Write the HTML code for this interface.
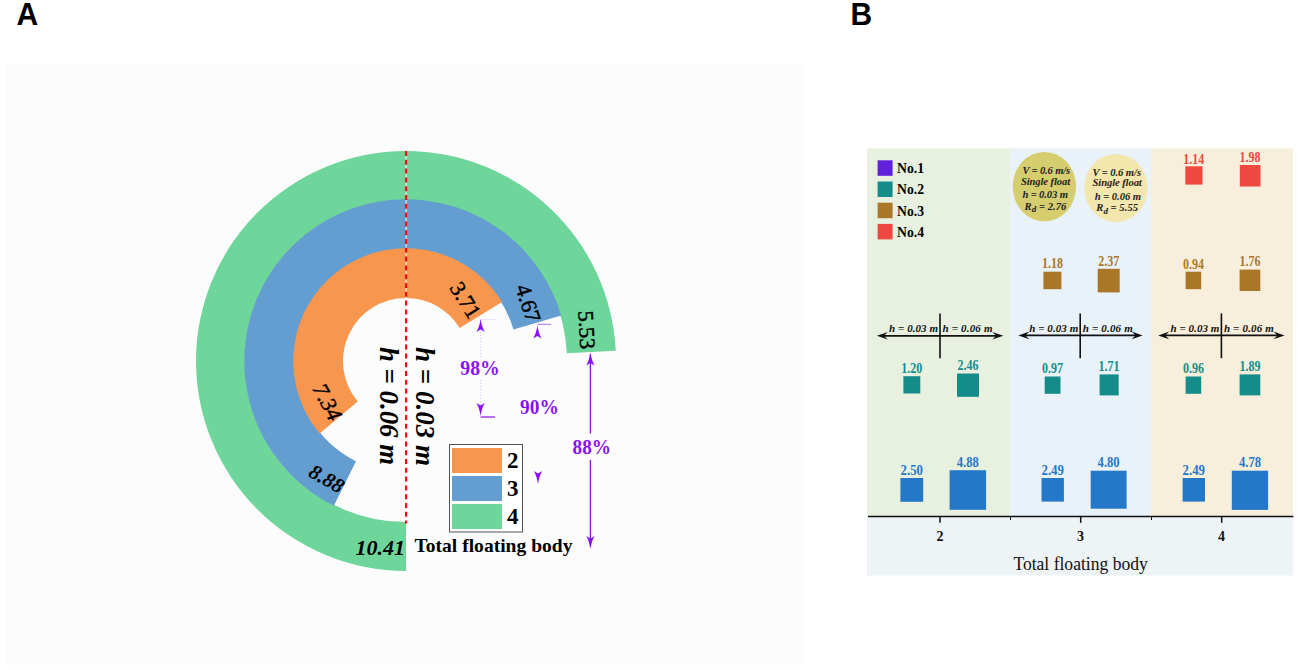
<!DOCTYPE html>
<html><head><meta charset="utf-8"><style>
html,body{margin:0;padding:0;background:#fff;width:1299px;height:670px;overflow:hidden}
svg{display:block}
</style></head><body>
<svg width="1299" height="670" viewBox="0 0 1299 670">
<text transform="translate(16.5,24.8) scale(1,1.02)" font-family='"Liberation Sans", sans-serif' font-weight="bold" font-size="30">A</text>
<text transform="translate(850.5,24.8) scale(1,1.02)" font-family='"Liberation Sans", sans-serif' font-weight="bold" font-size="30">B</text>
<rect x="6" y="65" width="799" height="600" fill="#fcfcfd"/>
<path d="M406.00,571.00 A210,210 0 0 1 406.00,151.00 L406.00,200.00 A161,161 0 0 0 406.00,522.00 Z" fill="#6ed69b"/>
<path d="M406.00,151.00 A210,210 0 0 1 615.75,350.74 L566.81,353.14 A161,161 0 0 0 406.00,200.00 Z" fill="#6ed69b"/>
<path d="M333.85,505.71 A161.7,161.7 0 0 1 406.00,199.30 L406.00,249.00 A112,112 0 0 0 356.03,461.23 Z" fill="#649dd0"/>
<path d="M406.00,199.30 A161.7,161.7 0 0 1 561.20,315.62 L513.50,329.57 A112,112 0 0 0 406.00,249.00 Z" fill="#649dd0"/>
<path d="M319.67,433.44 A112.7,112.7 0 0 1 406.00,248.30 L406.00,298.00 A63,63 0 0 0 357.74,401.50 Z" fill="#f8964e"/>
<path d="M406.00,248.30 A112.7,112.7 0 0 1 502.09,302.11 L459.72,328.08 A63,63 0 0 0 406.00,298.00 Z" fill="#f8964e"/>
<line x1="406.1" y1="151" x2="406.1" y2="523.5" stroke="#ffffff" stroke-width="1"/>
<line x1="406.1" y1="151" x2="406.1" y2="523.5" stroke="#ee1111" stroke-width="2.2" stroke-dasharray="5 3.8"/>
<text transform="translate(380,347) rotate(90)" font-family='"Liberation Serif", serif' font-weight="bold" font-style="italic" font-size="27" textLength="118" lengthAdjust="spacingAndGlyphs">h = 0.06 m</text>
<text transform="translate(416,347) rotate(90)" font-family='"Liberation Serif", serif' font-weight="bold" font-style="italic" font-size="27" textLength="119" lengthAdjust="spacingAndGlyphs">h = 0.03 m</text>
<text transform="translate(465.6,300) rotate(58)" text-anchor="middle" dominant-baseline="central" font-family='"Liberation Serif", serif' font-weight="normal" font-style="normal" font-size="22" stroke="#000" stroke-width="0.45">3.71</text>
<text transform="translate(528.3,303.2) rotate(72)" text-anchor="middle" dominant-baseline="central" font-family='"Liberation Serif", serif' font-weight="normal" font-style="normal" font-size="22" stroke="#000" stroke-width="0.45">4.67</text>
<text transform="translate(586.8,329.8) rotate(87)" text-anchor="middle" dominant-baseline="central" font-family='"Liberation Serif", serif' font-weight="normal" font-style="normal" font-size="22" stroke="#000" stroke-width="0.45">5.53</text>
<text transform="translate(327.6,402) rotate(62)" text-anchor="middle" dominant-baseline="central" font-family='"Liberation Serif", serif' font-weight="normal" font-style="italic" font-size="22" stroke="#000" stroke-width="0.45">7.34</text>
<text transform="translate(326.7,478.8) rotate(30)" text-anchor="middle" dominant-baseline="central" font-family='"Liberation Serif", serif' font-weight="bold" font-style="italic" font-size="21" stroke="#000" stroke-width="0">8.88</text>
<text x="405" y="554.8" text-anchor="end" font-family='"Liberation Serif", serif' font-weight="bold" font-style="italic" font-size="22">10.41</text>
<rect x="449.5" y="444.5" width="73" height="87.5" fill="#ffffff" stroke="#555" stroke-width="1"/>
<rect x="452" y="448" width="50" height="25" fill="#f8964e"/>
<rect x="452" y="476" width="50" height="25" fill="#649dd0"/>
<rect x="452" y="504" width="50" height="25" fill="#6ed69b"/>
<text x="507" y="467.5" font-family='"Liberation Serif", serif' font-weight="bold" font-size="23">2</text>
<text x="507" y="495.5" font-family='"Liberation Serif", serif' font-weight="bold" font-size="23">3</text>
<text x="507" y="523.5" font-family='"Liberation Serif", serif' font-weight="bold" font-size="23">4</text>
<text x="414.5" y="552" font-family='"Liberation Serif", serif' font-weight="bold" font-size="19" textLength="158" lengthAdjust="spacingAndGlyphs">Total floating body</text>
<text x="460.3" y="375.2" font-family='"Liberation Serif", serif' font-weight="bold" font-size="20" fill="#8a12f2" textLength="39.5" lengthAdjust="spacingAndGlyphs">98%</text>
<text x="520" y="414" font-family='"Liberation Serif", serif' font-weight="bold" font-size="20" fill="#8a12f2" textLength="38.8" lengthAdjust="spacingAndGlyphs">90%</text>
<text x="572.5" y="454" font-family='"Liberation Serif", serif' font-weight="bold" font-size="20" fill="#8a12f2" textLength="38.5" lengthAdjust="spacingAndGlyphs">88%</text>
<line x1="480.6" y1="320" x2="480.6" y2="358" stroke="#dcbdf8" stroke-width="1" stroke-dasharray="1 2"/>
<line x1="480.6" y1="380" x2="480.6" y2="414" stroke="#dcbdf8" stroke-width="1" stroke-dasharray="1 2"/>
<line x1="481" y1="319.5" x2="495" y2="319.5" stroke="#d8b8f8" stroke-width="1" stroke-dasharray="1 1.5"/>
<path d="M480.6,319 Q481.8,327 484.8,332 L480.6,329.5 L476.40000000000003,332 Q479.40000000000003,327 480.6,319 Z" fill="#8a12f2"/>
<path d="M480.6,416 Q481.8,408 484.8,403 L480.6,405.5 L476.40000000000003,403 Q479.40000000000003,408 480.6,416 Z" fill="#8a12f2"/>
<line x1="480.6" y1="417" x2="495" y2="417" stroke="#8a12f2" stroke-width="1.2"/>
<path d="M537.4,325.5 Q538.6,333.5 541.6,338.5 L537.4,336.0 L533.1999999999999,338.5 Q536.1999999999999,333.5 537.4,325.5 Z" fill="#8a12f2"/>
<line x1="537.4" y1="324.3" x2="551" y2="324.3" stroke="#b070f0" stroke-width="1"/>
<path d="M538,484 Q539.2,476 542.2,471 L538,473.5 L533.8,471 Q536.8,476 538,484 Z" fill="#8a12f2"/>
<line x1="590.4" y1="354" x2="590.4" y2="433.6" stroke="#8a12f2" stroke-width="1.3"/>
<line x1="590.4" y1="460" x2="590.4" y2="546" stroke="#8a12f2" stroke-width="1.3"/>
<path d="M590.4,352.5 Q591.6,360.5 594.6,365.5 L590.4,363.0 L586.1999999999999,365.5 Q589.1999999999999,360.5 590.4,352.5 Z" fill="#8a12f2"/>
<path d="M590.4,549 Q591.6,541 594.6,536 L590.4,538.5 L586.1999999999999,536 Q589.1999999999999,541 590.4,549 Z" fill="#8a12f2"/>
<rect x="867" y="148.3" width="143.5" height="368.2" fill="#e8f1e0"/>
<rect x="1010.5" y="148.3" width="140.5" height="368.2" fill="#e8f2f8"/>
<rect x="1151" y="148.3" width="142" height="368.2" fill="#f7efdc"/>
<rect x="867" y="516.5" width="426.5" height="59" fill="#eef3f6"/>
<rect x="877.6" y="160.3" width="15" height="15.5" fill="#6020dc"/>
<text x="897" y="173.2" font-family='"Liberation Serif", serif' font-weight="bold" font-size="15" textLength="27" lengthAdjust="spacingAndGlyphs">No.1</text>
<rect x="877.6" y="181.5" width="15" height="15.5" fill="#148c8a"/>
<text x="897" y="194.39999999999998" font-family='"Liberation Serif", serif' font-weight="bold" font-size="15" textLength="27" lengthAdjust="spacingAndGlyphs">No.2</text>
<rect x="877.6" y="202.70000000000002" width="15" height="15.5" fill="#aa7628"/>
<text x="897" y="215.6" font-family='"Liberation Serif", serif' font-weight="bold" font-size="15" textLength="27" lengthAdjust="spacingAndGlyphs">No.3</text>
<rect x="877.6" y="223.9" width="15" height="15.5" fill="#ee4840"/>
<text x="897" y="236.79999999999998" font-family='"Liberation Serif", serif' font-weight="bold" font-size="15" textLength="27" lengthAdjust="spacingAndGlyphs">No.4</text>
<ellipse cx="1044.4" cy="186.6" rx="31.7" ry="34.7" fill="#d6ce6e"/>
<ellipse cx="1116" cy="188" rx="31.7" ry="34" fill="#f4e7ae"/>
<text x="1022.4" y="173.6" font-family='"Liberation Serif", serif' font-weight="bold" font-style="italic" font-size="10.6" fill="#222" textLength="47.7" lengthAdjust="spacing">V = 0.6 m/s</text>
<text x="1020.9" y="184.8" font-family='"Liberation Serif", serif' font-weight="bold" font-style="italic" font-size="10.6" fill="#222" textLength="49.2" lengthAdjust="spacing">Single float</text>
<text x="1022.4" y="197.9" font-family='"Liberation Serif", serif' font-weight="bold" font-style="italic" font-size="10.6" fill="#222" textLength="45.5" lengthAdjust="spacing">h = 0.03 m</text>
<text x="1024.6" y="209.9" font-family='"Liberation Serif", serif' font-weight="bold" font-style="italic" font-size="10.6" fill="#222" textLength="41.8" lengthAdjust="spacing">R<tspan font-size="9" dy="2.5">d</tspan><tspan dy="-2.5"> = 2.76</tspan></text>
<text x="1092.5" y="175.8" font-family='"Liberation Serif", serif' font-weight="bold" font-style="italic" font-size="10.6" fill="#222" textLength="48.5" lengthAdjust="spacing">V = 0.6 m/s</text>
<text x="1092.5" y="186.3" font-family='"Liberation Serif", serif' font-weight="bold" font-style="italic" font-size="10.6" fill="#222" textLength="49.3" lengthAdjust="spacing">Single float</text>
<text x="1094.8" y="199.7" font-family='"Liberation Serif", serif' font-weight="bold" font-style="italic" font-size="10.6" fill="#222" textLength="46.2" lengthAdjust="spacing">h = 0.06 m</text>
<text x="1096.3" y="211.3" font-family='"Liberation Serif", serif' font-weight="bold" font-style="italic" font-size="10.6" fill="#222" textLength="41.7" lengthAdjust="spacing">R<tspan font-size="9" dy="2.5">d</tspan><tspan dy="-2.5"> = 5.55</tspan></text>
<rect x="1185.3" y="166.3" width="17.20" height="18.30" fill="#ee4840"/>
<text x="1193.8" y="163.5" text-anchor="middle" font-family='"Liberation Serif", serif' font-weight="bold" font-size="13.6" fill="#ee4840" textLength="21" lengthAdjust="spacingAndGlyphs">1.14</text>
<rect x="1239.8" y="165" width="20.70" height="21.50" fill="#ee4840"/>
<text x="1250" y="162.1" text-anchor="middle" font-family='"Liberation Serif", serif' font-weight="bold" font-size="13.6" fill="#ee4840" textLength="21" lengthAdjust="spacingAndGlyphs">1.98</text>
<rect x="1043.4" y="271.7" width="18.00" height="17.50" fill="#aa7628"/>
<text x="1052.4" y="267.8" text-anchor="middle" font-family='"Liberation Serif", serif' font-weight="bold" font-size="13.6" fill="#aa7628" textLength="21" lengthAdjust="spacingAndGlyphs">1.18</text>
<rect x="1097.7" y="268.8" width="22.00" height="23.60" fill="#aa7628"/>
<text x="1108.7" y="265.6" text-anchor="middle" font-family='"Liberation Serif", serif' font-weight="bold" font-size="13.6" fill="#aa7628" textLength="21" lengthAdjust="spacingAndGlyphs">2.37</text>
<rect x="1185.6" y="271.7" width="15.60" height="17.50" fill="#aa7628"/>
<text x="1193.4" y="268.5" text-anchor="middle" font-family='"Liberation Serif", serif' font-weight="bold" font-size="13.6" fill="#aa7628" textLength="21" lengthAdjust="spacingAndGlyphs">0.94</text>
<rect x="1239.6" y="269.6" width="20.70" height="21.40" fill="#aa7628"/>
<text x="1250" y="266.1" text-anchor="middle" font-family='"Liberation Serif", serif' font-weight="bold" font-size="13.6" fill="#aa7628" textLength="21" lengthAdjust="spacingAndGlyphs">1.76</text>
<rect x="903.4" y="376.2" width="16.90" height="17.30" fill="#148c8a"/>
<text x="911.8" y="372.70000000000005" text-anchor="middle" font-family='"Liberation Serif", serif' font-weight="bold" font-size="13.6" fill="#148c8a" textLength="21" lengthAdjust="spacingAndGlyphs">1.20</text>
<rect x="957" y="373.5" width="22.00" height="23.30" fill="#148c8a"/>
<text x="968" y="369.5" text-anchor="middle" font-family='"Liberation Serif", serif' font-weight="bold" font-size="13.6" fill="#148c8a" textLength="21" lengthAdjust="spacingAndGlyphs">2.46</text>
<rect x="1044.7" y="376.5" width="15.80" height="17.30" fill="#148c8a"/>
<text x="1052.6" y="373.1" text-anchor="middle" font-family='"Liberation Serif", serif' font-weight="bold" font-size="13.6" fill="#148c8a" textLength="21" lengthAdjust="spacingAndGlyphs">0.97</text>
<rect x="1099.6" y="374.4" width="19.10" height="21.00" fill="#148c8a"/>
<text x="1109.1" y="370.6" text-anchor="middle" font-family='"Liberation Serif", serif' font-weight="bold" font-size="13.6" fill="#148c8a" textLength="21" lengthAdjust="spacingAndGlyphs">1.71</text>
<rect x="1185.6" y="376.5" width="15.60" height="17.30" fill="#148c8a"/>
<text x="1193.4" y="373.1" text-anchor="middle" font-family='"Liberation Serif", serif' font-weight="bold" font-size="13.6" fill="#148c8a" textLength="21" lengthAdjust="spacingAndGlyphs">0.96</text>
<rect x="1239.6" y="374.4" width="20.70" height="21.00" fill="#148c8a"/>
<text x="1250" y="370.6" text-anchor="middle" font-family='"Liberation Serif", serif' font-weight="bold" font-size="13.6" fill="#148c8a" textLength="21" lengthAdjust="spacingAndGlyphs">1.89</text>
<rect x="900.4" y="478" width="22.80" height="23.80" fill="#2378c8"/>
<text x="911.8" y="475.0" text-anchor="middle" font-family='"Liberation Serif", serif' font-weight="bold" font-size="13.6" fill="#2378c8" textLength="22.4" lengthAdjust="spacingAndGlyphs">2.50</text>
<rect x="949.6" y="470.2" width="36.50" height="39.60" fill="#2378c8"/>
<text x="967.8" y="466.90000000000003" text-anchor="middle" font-family='"Liberation Serif", serif' font-weight="bold" font-size="13.6" fill="#2378c8" textLength="22" lengthAdjust="spacingAndGlyphs">4.88</text>
<rect x="1041.5" y="478" width="22.40" height="23.60" fill="#2378c8"/>
<text x="1052.7" y="475.0" text-anchor="middle" font-family='"Liberation Serif", serif' font-weight="bold" font-size="13.6" fill="#2378c8" textLength="22.4" lengthAdjust="spacingAndGlyphs">2.49</text>
<rect x="1090.7" y="470.7" width="35.90" height="38.00" fill="#2378c8"/>
<text x="1108.6" y="467.1" text-anchor="middle" font-family='"Liberation Serif", serif' font-weight="bold" font-size="13.6" fill="#2378c8" textLength="22" lengthAdjust="spacingAndGlyphs">4.80</text>
<rect x="1182.6" y="478" width="22.40" height="23.60" fill="#2378c8"/>
<text x="1193.8" y="475.0" text-anchor="middle" font-family='"Liberation Serif", serif' font-weight="bold" font-size="13.6" fill="#2378c8" textLength="22.4" lengthAdjust="spacingAndGlyphs">2.49</text>
<rect x="1231.8" y="470.7" width="36.30" height="39.20" fill="#2378c8"/>
<text x="1250" y="467.1" text-anchor="middle" font-family='"Liberation Serif", serif' font-weight="bold" font-size="13.6" fill="#2378c8" textLength="22" lengthAdjust="spacingAndGlyphs">4.78</text>
<line x1="882.9" y1="335.8" x2="997.3" y2="335.8" stroke="#111" stroke-width="1.8"/>
<path d="M876.9,335.8 L887.9,332.0 L883.9,335.8 L887.9,339.6 Z" fill="#111"/>
<path d="M1003.3,335.8 L992.3,332.0 L996.3,335.8 L992.3,339.6 Z" fill="#111"/>
<line x1="940" y1="313.4" x2="940" y2="358.2" stroke="#111" stroke-width="1.6"/>
<text x="938" y="331.8" text-anchor="end" font-family='"Liberation Serif", serif' font-weight="bold" font-style="italic" font-size="11" fill="#111" textLength="49" lengthAdjust="spacing">h = 0.03 m</text>
<text x="942.5" y="331.8" font-family='"Liberation Serif", serif' font-weight="bold" font-style="italic" font-size="11" fill="#111" textLength="50" lengthAdjust="spacing">h = 0.06 m</text>
<line x1="1024.4" y1="335.4" x2="1136.6" y2="335.4" stroke="#111" stroke-width="1.8"/>
<path d="M1018.4,335.4 L1029.4,331.59999999999997 L1025.4,335.4 L1029.4,339.2 Z" fill="#111"/>
<path d="M1142.6,335.4 L1131.6,331.59999999999997 L1135.6,335.4 L1131.6,339.2 Z" fill="#111"/>
<line x1="1080.2" y1="313.4" x2="1080.2" y2="358.2" stroke="#111" stroke-width="1.6"/>
<text x="1078.2" y="331.8" text-anchor="end" font-family='"Liberation Serif", serif' font-weight="bold" font-style="italic" font-size="11" fill="#111" textLength="49" lengthAdjust="spacing">h = 0.03 m</text>
<text x="1082.7" y="331.8" font-family='"Liberation Serif", serif' font-weight="bold" font-style="italic" font-size="11" fill="#111" textLength="50" lengthAdjust="spacing">h = 0.06 m</text>
<line x1="1164.2" y1="335.4" x2="1278.5" y2="335.4" stroke="#111" stroke-width="1.8"/>
<path d="M1158.2,335.4 L1169.2,331.59999999999997 L1165.2,335.4 L1169.2,339.2 Z" fill="#111"/>
<path d="M1284.5,335.4 L1273.5,331.59999999999997 L1277.5,335.4 L1273.5,339.2 Z" fill="#111"/>
<line x1="1221.4" y1="313.4" x2="1221.4" y2="358.2" stroke="#111" stroke-width="1.6"/>
<text x="1219.4" y="331.8" text-anchor="end" font-family='"Liberation Serif", serif' font-weight="bold" font-style="italic" font-size="11" fill="#111" textLength="49" lengthAdjust="spacing">h = 0.03 m</text>
<text x="1223.9" y="331.8" font-family='"Liberation Serif", serif' font-weight="bold" font-style="italic" font-size="11" fill="#111" textLength="50" lengthAdjust="spacing">h = 0.06 m</text>
<line x1="868" y1="516.5" x2="1293.4" y2="516.5" stroke="#111" stroke-width="1.5"/>
<line x1="940" y1="516.5" x2="940" y2="522.8" stroke="#111" stroke-width="1.5"/>
<line x1="1080.7" y1="516.5" x2="1080.7" y2="522.8" stroke="#111" stroke-width="1.5"/>
<line x1="1221.7" y1="516.5" x2="1221.7" y2="522.8" stroke="#111" stroke-width="1.5"/>
<line x1="1010.5" y1="516.5" x2="1010.5" y2="520" stroke="#111" stroke-width="1"/>
<line x1="1151.5" y1="516.5" x2="1151.5" y2="520" stroke="#111" stroke-width="1"/>
<text x="940" y="540.7" text-anchor="middle" font-family='"Liberation Serif", serif' font-weight="bold" font-size="14" fill="#111">2</text>
<text x="1080.5" y="540.7" text-anchor="middle" font-family='"Liberation Serif", serif' font-weight="bold" font-size="14" fill="#111">3</text>
<text x="1221.5" y="540.7" text-anchor="middle" font-family='"Liberation Serif", serif' font-weight="bold" font-size="14" fill="#111">4</text>
<text x="1013.4" y="569.9" font-family='"Liberation Serif", serif' font-size="18" fill="#111" textLength="134.4" lengthAdjust="spacingAndGlyphs">Total floating body</text>
</svg>
</body></html>
